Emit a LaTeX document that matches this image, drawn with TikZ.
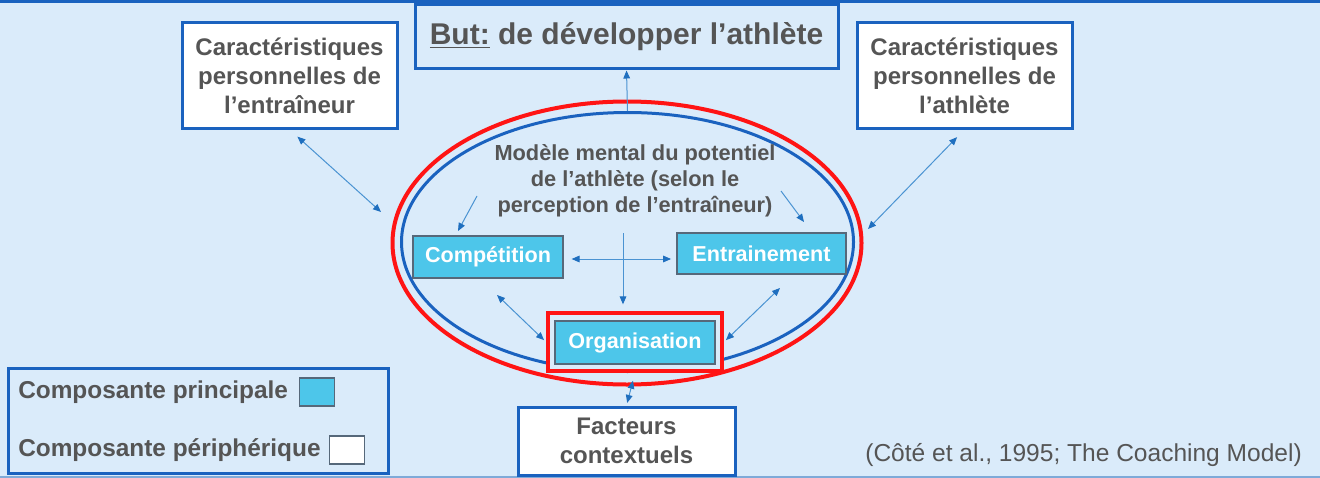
\documentclass[tikz,border=0pt]{standalone}
\usepackage{fontspec}
\setmainfont{Liberation Sans}
\usetikzlibrary{shapes.geometric,arrows.meta,positioning,calc}

\definecolor{bgblue}{HTML}{DAEBFA}
\definecolor{frameblue}{HTML}{1A62BF}
\definecolor{txtgray}{HTML}{555555}
\definecolor{corecyan}{HTML}{4DC6EA}
\definecolor{coregray}{HTML}{56687A}
\definecolor{linkblue}{HTML}{4A93D2}
\definecolor{tipblue}{HTML}{1F6FBF}
\definecolor{ringred}{HTML}{FF1414}
\definecolor{edgeblue}{HTML}{7FAAD8}

\begin{document}
\begin{tikzpicture}[
  x=0.75pt, y=-0.75pt,
  periph/.style={rectangle, draw=frameblue, line width=2.25pt, fill=white,
                 align=center, text=txtgray, inner sep=0pt,
                 font=\fontsize{18}{21.75}\selectfont\bfseries},
  core/.style={rectangle, draw=coregray, line width=0.9pt, fill=corecyan,
               text=white, inner sep=0pt,
               font=\fontsize{16.2}{19}\selectfont\bfseries},
  ring/.style={ellipse, draw, inner sep=0pt, fill=none},
  keytext/.style={anchor=west, inner sep=0pt, text=txtgray,
                  font=\fontsize{18.3}{22}\selectfont\bfseries},
  keysq/.style={rectangle, draw=coregray, line width=0.9pt, inner sep=0pt,
                minimum width=26pt, minimum height=21pt},
  link/.style={draw=linkblue, line width=0.75pt,
               -{Triangle[length=6pt, width=5pt, color=tipblue]}},
  dlink/.style={link, {Triangle[length=6pt, width=5pt, color=tipblue]}-{Triangle[length=6pt, width=5pt, color=tipblue]}},
]
  % ========= CANVAS =========
  \useasboundingbox (0,0) rectangle (1320,478);
  \fill[bgblue] (0,0) rectangle (1320,478);
  \draw[frameblue, line width=2.25pt] (0,1.5) -- (1320,1.5);
  \draw[edgeblue, line width=1pt] (0,477) -- (1320,477);

  % ========= MENTAL MODEL (rings) =========
  \node[ring, draw=ringred, line width=3pt, minimum width=351.75pt,
        minimum height=212.25pt] (outerring) at (627,243) {};
  \node[ring, draw=frameblue, line width=2.25pt, minimum width=339pt,
        minimum height=194.25pt] (innerring) at (627.5,242) {};

  \node[align=center, text=txtgray, font=\fontsize{16.35}{19.5}\selectfont\bfseries]
       (mental) at (635,181)
       {Modèle mental du potentiel\\ de l’athlète (selon le\\ perception de l’entraîneur)};

  % Core components
  \node[core, minimum width=112.5pt, minimum height=31.5pt] (comp) at (488,257) {Compétition};
  \node[core, minimum width=126.75pt, minimum height=30.75pt] (train) at (761.5,253.5) {Entrainement};
  \node[rectangle, draw=ringred, line width=3pt, fill=bgblue, minimum width=130.5pt,
        minimum height=43.5pt] (orgframe) at (635,342) {};
  \node[core, minimum width=120pt, minimum height=32.25pt] (org) at (635,342.5) {Organisation};

  % ========= PERIPHERAL COMPONENTS =========
  \node[periph, fill=bgblue, minimum width=317.25pt, minimum height=48pt,
        font=\fontsize{22.5}{26}\selectfont\bfseries] (goal) at (626.5,37)
       {\underline{But:} de développer l’athlète};
  \node[periph, minimum width=161.25pt, minimum height=78.75pt] (coach) at (289.5,75.5)
       {Caractéristiques\\ personnelles de\\ l’entraîneur};
  \node[periph, minimum width=161.25pt, minimum height=78.75pt] (athlete) at (964.5,75.5)
       {Caractéristiques\\ personnelles de\\ l’athlète};
  \node[periph, minimum width=162.75pt, minimum height=51pt] (context) at (626.5,441)
       {Facteurs\\ contextuels};

  % ========= CONNECTORS =========
  \coordinate (ringL) at (381,212);
  \coordinate (ringR) at (868,229);
  \coordinate (mentalL) at (477,196);
  \coordinate (compTip) at (458,231);
  \coordinate (mentalR) at (781,191);
  \coordinate (trainTip) at (804,222);
  \coordinate (crossTop) at (623,233);
  \coordinate (compLow) at (497,295);
  \coordinate (trainLow) at (780,288);

  \draw[dlink, shorten <=8pt] (coach.south) -- (ringL);
  \draw[dlink, shorten <=8pt] (athlete.south) -- (ringR);
  \draw[link] (innerring.north) -- (goal.south);
  \draw[link] (mentalL) -- (compTip);
  \draw[link] (mentalR) -- (trainTip);
  \draw[dlink, shorten <=6pt, shorten >=4pt] (comp.east |- 0,259) -- (train.west |- 0,259);
  \draw[link, shorten >=5pt] (crossTop) -- (crossTop |- orgframe.north);
  \draw[dlink, shorten >=2pt] (compLow) -- (orgframe.west);
  \draw[dlink, shorten >=2pt] (trainLow) -- (orgframe.east);
  \draw[dlink, shorten <=6pt, shorten >=2pt] (orgframe.south) -- (context.north);

  % ========= LEGEND =========
  \node[rectangle, draw=frameblue, line width=2.25pt, fill=bgblue, minimum width=285pt,
        minimum height=78.75pt] (legend) at (198,420.5) {};
  \node[keytext] (keymain) at (18,392) {Composante principale};
  \node[keysq, fill=corecyan, right=8pt of keymain] (sqmain) {};
  \node[keytext] (keyperiph) at (18,450) {Composante périphérique};
  \node[keysq, fill=white, right=6pt of keyperiph] (sqperiph) {};

  % Source
  \node[anchor=east, inner sep=0pt, text=txtgray, font=\fontsize{18.4}{22}\selectfont]
       (source) at (1302,455) {(Côté et al., 1995; The Coaching Model)};
\end{tikzpicture}
\end{document}
